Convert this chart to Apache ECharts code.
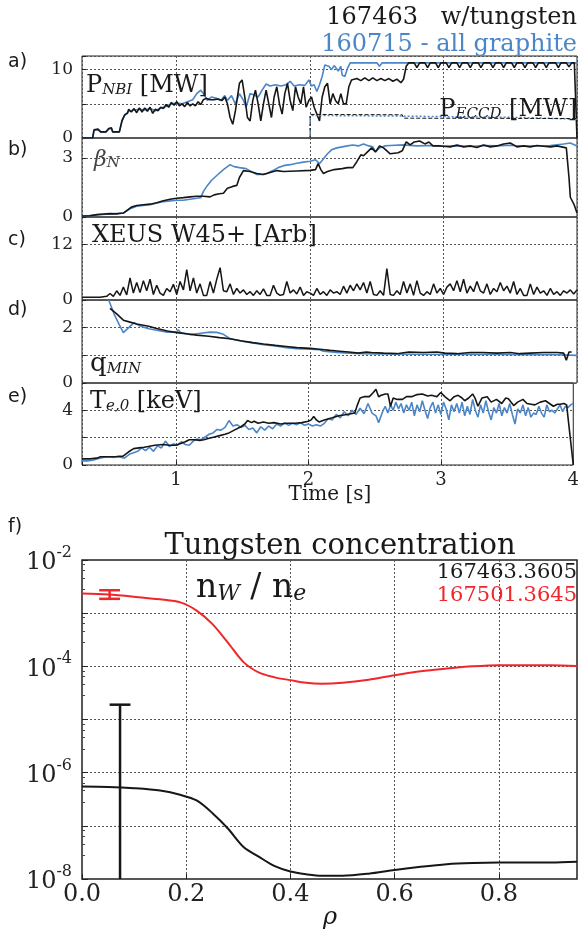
<!DOCTYPE html>
<html>
<head>
<meta charset="utf-8">
<title>Tungsten discharge comparison</title>
<script src="https://cdn.jsdelivr.net/npm/echarts@6/dist/echarts.min.js"></script>
<style>
  html, body { margin: 0; padding: 0; background: #fff; }
  #main { width: 582px; height: 929px; }
</style>
</head>
<body>
<div id="main"></div>
<script>
// ---- time traces: [t (s), value] ----
const pnbiW = [[0.29,0],[0.37,0],[0.38,1.2],[0.41,1.3],[0.43,0.9],[0.47,0.9],[0.49,1.4],[0.51,1.5],[0.52,0.9],[0.57,0.9],[0.59,2.5],[0.61,3.4],[0.63,3.6],[0.64,4.2],[0.66,3.8],[0.68,4.3],[0.70,3.7],[0.72,4.4],[0.74,3.8],[0.76,4.4],[0.78,3.9],[0.80,4.5],[0.82,3.6],[0.84,4.2],[0.86,4.0],[0.88,4.5],[0.90,4.3],[0.92,4.9],[0.94,4.5],[0.96,5.2],[0.98,4.8],[1.00,5.3],[1.02,4.7],[1.04,5.0],[1.06,4.6],[1.08,5.2],[1.10,4.7],[1.12,5.0],[1.14,4.7],[1.16,5.3],[1.18,4.9],[1.20,5.6],[1.22,5.8],[1.25,5.6],[1.28,5.6],[1.31,5.7],[1.34,5.5],[1.36,6.0],[1.38,5.0],[1.40,3.0],[1.42,2.0],[1.44,4.0],[1.47,8.0],[1.49,8.5],[1.51,6.0],[1.53,3.0],[1.55,2.5],[1.57,5.5],[1.59,7.0],[1.61,5.0],[1.63,2.5],[1.65,5.0],[1.67,7.0],[1.69,5.0],[1.71,3.0],[1.73,6.0],[1.75,7.5],[1.77,5.0],[1.79,3.5],[1.81,6.5],[1.83,8.0],[1.85,5.5],[1.87,4.0],[1.89,7.5],[1.91,6.0],[1.93,5.0],[1.95,7.5],[1.97,4.5],[1.99,5.5],[2.01,6.0],[2.03,4.5],[2.05,3.5],[2.07,2.5],[2.09,6.0],[2.11,7.5],[2.13,8.0],[2.15,5.0],[2.17,6.5],[2.19,5.5],[2.21,5.0],[2.23,6.5],[2.25,5.0],[2.27,5.0],[2.29,7.5],[2.31,8.5],[2.35,8.7],[2.38,8.4],[2.41,8.8],[2.44,8.4],[2.47,8.8],[2.50,8.4],[2.53,8.7],[2.56,8.4],[2.59,8.7],[2.62,8.3],[2.65,8.6],[2.68,8.1],[2.70,8.6],[2.72,10.5],[2.74,11.0],[2.78,11.0],[2.80,10.3],[2.82,11.0],[2.86,11.0],[2.88,10.3],[2.90,11.0],[2.94,11.0],[2.96,10.3],[2.98,11.0],[3.02,11.0],[3.04,10.3],[3.06,11.0],[3.10,11.0],[3.12,10.3],[3.14,11.0],[3.18,11.0],[3.20,10.3],[3.22,11.0],[3.26,11.0],[3.28,10.3],[3.30,11.0],[3.35,11.0],[3.37,10.3],[3.39,11.0],[3.43,11.0],[3.45,10.3],[3.47,11.0],[3.51,11.0],[3.53,10.3],[3.55,11.0],[3.59,11.0],[3.61,10.3],[3.63,11.0],[3.67,11.0],[3.69,10.3],[3.71,11.0],[3.75,11.0],[3.77,10.3],[3.79,11.0],[3.84,11.0],[3.86,10.3],[3.88,11.0],[3.92,11.0],[3.94,10.4],[3.96,11.0],[3.98,11.0],[4.00,0]];
const pnbiC = [[0.29,0],[0.37,0],[0.38,1.1],[0.41,1.2],[0.43,0.9],[0.47,0.9],[0.49,1.3],[0.51,1.4],[0.52,0.9],[0.57,0.9],[0.59,2.6],[0.61,3.3],[0.64,3.9],[0.68,4.1],[0.72,4.2],[0.76,4.1],[0.80,4.3],[0.84,4.0],[0.88,4.4],[0.92,4.6],[0.96,5.0],[1.00,5.1],[1.04,5.0],[1.08,5.3],[1.12,5.6],[1.15,6.5],[1.18,7.0],[1.20,6.5],[1.23,5.5],[1.26,6.0],[1.30,5.8],[1.33,5.5],[1.36,6.2],[1.38,5.5],[1.41,6.2],[1.44,5.0],[1.47,6.5],[1.50,5.5],[1.52,4.5],[1.55,6.5],[1.58,6.3],[1.61,6.0],[1.64,7.0],[1.67,7.9],[1.70,7.6],[1.74,7.8],[1.78,7.6],[1.82,7.8],[1.85,8.3],[1.88,7.6],[1.92,7.8],[1.96,7.7],[1.99,8.5],[2.01,7.6],[2.03,7.8],[2.05,6.8],[2.07,7.8],[2.09,9.0],[2.11,10.7],[2.14,10.5],[2.16,10.0],[2.18,10.6],[2.21,9.8],[2.23,10.5],[2.24,9.2],[2.26,9.0],[2.28,10.2],[2.30,11.0],[2.50,11.0],[2.52,10.5],[2.54,11.0],[3.99,11.0],[4.00,10.9]];
const ecW = [[2.0,0],[2.0,3.45],[2.69,3.4],[2.70,2.9],[4.0,2.85]];
const ecC = [[2.0,0],[2.0,3.3],[2.7,3.2],[3.6,3.0],[4.0,2.75]];

const betaW = [[0.29,0.05],[0.35,0.06],[0.40,0.12],[0.45,0.15],[0.50,0.17],[0.55,0.16],[0.60,0.2],[0.63,0.35],[0.66,0.5],[0.70,0.58],[0.75,0.62],[0.80,0.65],[0.85,0.72],[0.90,0.82],[0.95,0.9],[1.00,0.95],[1.05,0.98],[1.10,1.02],[1.15,1.05],[1.20,1.05],[1.25,1.02],[1.28,1.12],[1.32,1.18],[1.35,1.2],[1.38,1.45],[1.42,1.55],[1.45,1.6],[1.47,2.0],[1.50,2.35],[1.55,2.3],[1.60,2.2],[1.65,2.15],[1.70,2.25],[1.75,2.35],[1.80,2.3],[1.90,2.33],[2.00,2.36],[2.04,2.4],[2.06,2.7],[2.08,2.4],[2.10,2.2],[2.13,2.3],[2.18,2.4],[2.24,2.45],[2.28,2.5],[2.32,2.5],[2.35,2.8],[2.38,3.15],[2.40,3.1],[2.43,3.3],[2.46,3.5],[2.49,3.3],[2.52,3.6],[2.55,3.5],[2.60,3.2],[2.66,3.25],[2.69,3.35],[2.72,3.8],[2.75,3.65],[2.78,3.8],[2.82,3.85],[2.86,3.7],[2.89,3.8],[2.92,3.6],[2.96,3.6],[3.00,3.58],[3.05,3.55],[3.10,3.65],[3.15,3.55],[3.20,3.6],[3.25,3.52],[3.30,3.65],[3.35,3.55],[3.40,3.6],[3.45,3.7],[3.50,3.75],[3.55,3.55],[3.60,3.6],[3.65,3.55],[3.70,3.62],[3.75,3.58],[3.80,3.55],[3.85,3.6],[3.92,3.5],[3.94,2.0],[3.95,1.0],[3.98,0.6],[4.00,0.2]];
const betaC = [[0.29,0.04],[0.40,0.1],[0.50,0.15],[0.60,0.2],[0.65,0.42],[0.70,0.55],[0.80,0.62],[0.90,0.78],[1.00,0.85],[1.05,0.85],[1.10,0.9],[1.15,0.95],[1.18,0.98],[1.20,1.3],[1.23,1.6],[1.26,1.85],[1.30,2.1],[1.35,2.4],[1.40,2.65],[1.43,2.55],[1.47,2.5],[1.52,2.45],[1.56,2.3],[1.60,2.15],[1.64,2.15],[1.68,2.22],[1.72,2.35],[1.76,2.5],[1.80,2.6],[1.85,2.65],[1.90,2.72],[1.95,2.78],[2.00,2.82],[2.04,2.9],[2.07,2.7],[2.10,2.95],[2.13,3.2],[2.16,3.4],[2.20,3.5],[2.24,3.55],[2.28,3.6],[2.32,3.65],[2.36,3.6],[2.40,3.7],[2.44,3.6],[2.47,3.55],[2.49,3.3],[2.52,3.5],[2.56,3.6],[2.60,3.62],[2.70,3.65],[2.80,3.6],[2.90,3.62],[3.00,3.58],[3.10,3.6],[3.20,3.57],[3.30,3.62],[3.40,3.6],[3.50,3.63],[3.60,3.58],[3.70,3.6],[3.80,3.62],[3.90,3.7],[3.95,3.75],[4.00,3.6]];

const xeusW = [[0.29,0.6],[0.325,0.6],[0.35,0.6],[0.375,0.6],[0.40,0.6],[0.425,0.6],[0.45,0.7],[0.475,0.8],[0.50,1.4],[0.525,0.8],[0.55,2.0],[0.575,1.0],[0.60,2.8],[0.625,1.1],[0.65,4.8],[0.675,1.5],[0.70,3.8],[0.725,1.6],[0.75,4.2],[0.775,2.0],[0.80,4.5],[0.825,1.2],[0.85,3.2],[0.875,1.5],[0.90,1.0],[0.925,2.5],[0.95,1.8],[0.975,3.4],[1.00,1.2],[1.025,4.0],[1.05,2.2],[1.075,6.6],[1.10,2.0],[1.125,4.8],[1.15,1.5],[1.175,3.5],[1.20,1.0],[1.225,1.0],[1.25,4.0],[1.275,1.5],[1.30,4.5],[1.325,7.0],[1.35,2.0],[1.375,1.8],[1.40,3.5],[1.425,1.2],[1.45,2.5],[1.475,1.5],[1.50,2.2],[1.525,1.2],[1.55,1.8],[1.575,1.0],[1.60,2.0],[1.625,1.2],[1.65,2.4],[1.675,1.0],[1.70,1.0],[1.725,3.2],[1.75,1.5],[1.775,1.0],[1.80,1.2],[1.825,4.0],[1.85,1.5],[1.875,2.2],[1.90,1.3],[1.925,2.8],[1.95,1.0],[1.975,1.8],[2.00,1.5],[2.025,1.0],[2.05,2.5],[2.075,1.2],[2.10,1.8],[2.125,1.0],[2.15,2.2],[2.175,1.5],[2.20,1.8],[2.225,1.2],[2.25,3.0],[2.275,1.5],[2.30,3.2],[2.325,2.0],[2.35,3.5],[2.375,2.2],[2.40,3.8],[2.425,1.5],[2.45,4.0],[2.475,1.2],[2.50,1.0],[2.525,2.0],[2.55,1.0],[2.575,6.8],[2.60,1.2],[2.625,1.0],[2.65,2.0],[2.675,1.2],[2.70,4.0],[2.725,1.5],[2.75,3.5],[2.775,1.0],[2.80,4.2],[2.825,1.5],[2.85,1.0],[2.875,1.8],[2.90,1.2],[2.925,3.5],[2.95,1.5],[2.975,2.5],[3.00,1.2],[3.025,2.8],[3.05,3.5],[3.075,2.0],[3.10,4.2],[3.125,1.8],[3.15,4.5],[3.175,1.5],[3.20,3.0],[3.225,1.8],[3.25,4.0],[3.275,2.0],[3.30,1.5],[3.325,3.5],[3.35,1.2],[3.375,2.5],[3.40,1.8],[3.425,3.8],[3.45,2.0],[3.475,3.0],[3.50,1.5],[3.525,4.0],[3.55,1.2],[3.575,2.5],[3.60,1.0],[3.625,1.0],[3.65,3.5],[3.675,1.2],[3.70,2.8],[3.725,1.5],[3.75,2.0],[3.775,1.0],[3.80,2.5],[3.825,1.2],[3.85,1.8],[3.875,1.0],[3.90,2.0],[3.925,1.5],[3.95,2.2],[3.975,1.3],[4.00,2.2]];

const qminW = [[0.50,2.7],[0.55,2.5],[0.60,2.27],[0.65,2.2],[0.70,2.13],[0.79,2.05],[0.85,1.97],[0.93,1.88],[1.00,1.82],[1.07,1.78],[1.15,1.73],[1.24,1.69],[1.32,1.64],[1.40,1.6],[1.48,1.53],[1.57,1.46],[1.65,1.41],[1.74,1.36],[1.82,1.32],[1.90,1.28],[2.00,1.25],[2.07,1.22],[2.15,1.18],[2.22,1.15],[2.29,1.12],[2.36,1.08],[2.42,1.12],[2.46,1.1],[2.55,1.08],[2.65,1.06],[2.74,1.12],[2.85,1.1],[2.95,1.12],[3.01,1.08],[3.10,1.06],[3.20,1.1],[3.29,1.1],[3.40,1.08],[3.50,1.1],[3.57,1.06],[3.65,1.08],[3.75,1.1],[3.85,1.1],[3.90,1.08],[3.92,0.82],[3.94,1.12],[3.96,1.12]];
const qminC = [[0.49,3.0],[0.53,2.5],[0.57,2.1],[0.60,1.82],[0.64,2.0],[0.68,2.18],[0.73,2.05],[0.79,1.96],[0.86,1.9],[0.93,1.84],[1.00,1.84],[1.01,1.92],[1.03,1.82],[1.10,1.75],[1.18,1.8],[1.25,1.84],[1.30,1.83],[1.35,1.76],[1.40,1.6],[1.50,1.5],[1.57,1.45],[1.65,1.38],[1.74,1.34],[1.82,1.28],[1.90,1.24],[2.00,1.22],[2.07,1.2],[2.10,1.15],[2.20,1.1],[2.29,1.08],[2.40,1.06],[2.50,1.05],[2.60,1.05],[2.80,1.04],[3.00,1.03],[3.20,1.04],[3.40,1.03],[3.60,1.02],[3.80,1.03],[4.00,1.0]];

const teW = [[0.29,0.45],[0.35,0.45],[0.40,0.5],[0.43,0.6],[0.51,0.6],[0.55,0.62],[0.60,0.65],[0.64,0.95],[0.68,1.2],[0.72,1.25],[0.76,1.3],[0.79,1.35],[0.84,1.45],[0.90,1.5],[0.95,1.45],[1.00,1.45],[1.04,1.6],[1.07,1.7],[1.10,1.85],[1.14,1.85],[1.18,1.8],[1.21,1.85],[1.25,1.95],[1.29,2.05],[1.33,2.15],[1.37,2.25],[1.40,2.35],[1.44,2.55],[1.49,2.8],[1.52,3.0],[1.54,3.25],[1.57,3.1],[1.59,3.2],[1.62,3.05],[1.66,3.15],[1.70,3.05],[1.74,3.1],[1.79,3.0],[1.84,3.05],[1.90,3.05],[1.95,3.1],[2.00,3.2],[2.02,3.3],[2.04,3.55],[2.06,3.3],[2.08,3.15],[2.12,3.3],[2.18,3.45],[2.23,3.6],[2.29,3.7],[2.35,3.8],[2.37,4.4],[2.39,4.9],[2.42,5.0],[2.46,5.0],[2.49,5.3],[2.51,5.55],[2.53,5.0],[2.55,5.1],[2.58,5.2],[2.60,5.2],[2.62,4.3],[2.64,4.9],[2.67,4.8],[2.71,4.8],[2.74,5.0],[2.78,5.0],[2.82,5.15],[2.86,5.2],[2.90,5.05],[2.93,5.1],[2.97,5.0],[3.00,5.3],[3.03,5.0],[3.07,4.7],[3.10,5.0],[3.13,5.1],[3.16,4.9],[3.18,4.7],[3.21,4.9],[3.24,5.2],[3.26,4.85],[3.28,4.3],[3.31,4.9],[3.35,5.0],[3.38,4.6],[3.42,4.8],[3.46,4.5],[3.49,4.9],[3.51,4.85],[3.55,4.35],[3.58,4.6],[3.62,4.8],[3.65,4.5],[3.68,4.45],[3.71,4.4],[3.75,4.6],[3.79,4.7],[3.82,4.5],[3.85,4.3],[3.88,4.45],[3.90,4.45],[3.93,4.5],[3.95,4.4],[3.96,3.5],[4.00,0.0]];
const teC = [[0.29,0.3],[0.33,0.3],[0.37,0.35],[0.41,0.45],[0.45,0.55],[0.49,0.6],[0.53,0.55],[0.57,0.6],[0.61,0.5],[0.65,0.8],[0.68,0.9],[0.71,1.0],[0.74,1.25],[0.77,1.05],[0.80,1.3],[0.83,1.0],[0.86,1.4],[0.89,1.25],[0.92,1.75],[0.95,1.35],[0.98,1.55],[1.01,1.45],[1.04,1.7],[1.07,1.5],[1.10,1.45],[1.13,1.75],[1.16,1.9],[1.19,1.85],[1.22,2.05],[1.25,2.25],[1.28,2.35],[1.31,2.6],[1.34,2.55],[1.37,2.75],[1.40,3.25],[1.43,2.85],[1.46,2.95],[1.49,2.75],[1.52,2.9],[1.55,2.6],[1.58,2.7],[1.61,2.35],[1.64,2.8],[1.67,2.55],[1.70,2.85],[1.73,2.65],[1.76,3.0],[1.79,2.85],[1.82,3.1],[1.85,2.9],[1.88,3.05],[1.91,2.95],[1.94,3.1],[1.97,2.9],[2.00,3.0],[2.03,2.85],[2.06,2.95],[2.09,2.85],[2.12,3.05],[2.15,3.4],[2.18,3.3],[2.21,3.7],[2.24,3.45],[2.27,3.9],[2.30,3.6],[2.33,4.0],[2.36,3.7],[2.39,4.15],[2.42,3.75],[2.45,4.5],[2.48,3.8],[2.51,3.6],[2.53,3.1],[2.56,3.9],[2.58,4.3],[2.60,3.8],[2.62,4.4],[2.64,4.0],[2.66,4.6],[2.68,4.1],[2.70,4.5],[2.72,3.8],[2.74,4.4],[2.76,4.0],[2.78,4.6],[2.80,3.6],[2.82,4.4],[2.84,3.9],[2.86,4.7],[2.88,4.0],[2.90,3.4],[2.92,4.2],[2.94,4.6],[2.96,3.8],[2.98,4.4],[3.00,3.7],[3.02,4.6],[3.04,4.1],[3.06,3.3],[3.08,4.4],[3.10,3.9],[3.12,4.5],[3.14,3.8],[3.16,4.6],[3.18,3.6],[3.20,4.3],[3.22,3.7],[3.24,4.8],[3.26,4.0],[3.28,3.5],[3.30,4.4],[3.32,3.8],[3.34,4.7],[3.36,3.9],[3.38,3.3],[3.40,4.2],[3.42,3.8],[3.44,4.5],[3.46,3.6],[3.48,4.2],[3.50,3.8],[3.52,4.5],[3.54,3.7],[3.56,3.0],[3.58,4.1],[3.60,3.8],[3.62,4.4],[3.64,3.6],[3.66,4.2],[3.68,3.5],[3.70,3.8],[3.72,3.7],[3.74,4.3],[3.76,3.8],[3.78,3.5],[3.80,4.4],[3.82,3.9],[3.84,4.0],[3.86,3.8],[3.88,4.1],[3.90,4.4],[3.92,3.9],[3.94,4.3],[3.96,4.2],[3.98,4.4],[4.00,4.5]];

// ---- tungsten concentration profiles vs rho ----
const rho = [0, 0.05, 0.10, 0.15, 0.19, 0.22, 0.25, 0.28, 0.31, 0.34, 0.37, 0.40, 0.43, 0.46, 0.50, 0.55, 0.60, 0.65, 0.70, 0.75, 0.80, 0.85, 0.90, 0.95];
const cW167463 = [5.5e-7, 5.4e-7, 5.1e-7, 4.6e-7, 3.8e-7, 3.0e-7, 1.75e-7, 8.9e-8, 4.0e-8, 2.6e-8, 1.74e-8, 1.38e-8, 1.23e-8, 1.15e-8, 1.15e-8, 1.26e-8, 1.48e-8, 1.7e-8, 1.9e-8, 2.0e-8, 2.04e-8, 2.04e-8, 2.04e-8, 2.1e-8];
const cW167501 = [2.34e-3, 2.24e-3, 2.04e-3, 1.82e-3, 1.58e-3, 1.12e-3, 6.3e-4, 2.8e-4, 1.2e-4, 7.6e-5, 6.2e-5, 5.5e-5, 4.9e-5, 4.7e-5, 4.9e-5, 5.6e-5, 6.8e-5, 8.1e-5, 9.1e-5, 1.0e-4, 1.05e-4, 1.05e-4, 1.05e-4, 1.02e-4];
// error bars: [rho, low, high, cap half width]; low at the axis floor has no cap
const errW167463 = [[0.073, 1e-8, 1.9e-5, 0.02]];
const errW167501 = [[0.053, 1.86e-3, 2.7e-3, 0.02]];

const timeTicks = [1, 2, 3, 4];
const shownY = [[0, 10], [0, 3], [0, 12], [0, 2], [0, 4]];

const BLUE = '#4a86c8', BLACK = '#161616', RED = '#f0262b';
const SERIF = 'DejaVu Serif';
const LOG_MIN = 1e-8;

const chart = echarts.init(document.getElementById('main'), null, { renderer: 'canvas' });

const panels = [
  { top: 56, height: 82, max: 12, interval: 5 },
  { top: 138, height: 79, max: 4, interval: 3 },
  { top: 217, height: 83, max: 18, interval: 12 },
  { top: 300, height: 83, max: 3, interval: 1 },
  { top: 383, height: 82, max: 6, interval: 2 }
];

const dotted = { show: true, lineStyle: { type: [2, 2], color: '#555', width: 1 } };

const grid = panels.map(p => ({
  left: 82, right: 5, top: p.top, height: p.height,
  show: true, borderColor: '#222', borderWidth: 1, backgroundColor: 'transparent'
}));
grid.push({ left: 82, right: 5, top: 560, height: 319, show: true, borderColor: '#222', borderWidth: 1.5 });

const xAxis = panels.map((p, i) => ({
  type: 'value', gridIndex: i, min: 0.29, max: 4, minInterval: 1, maxInterval: 1,
  axisLine: { show: false },
  axisTick: { show: i === 4, inside: true, length: 4, lineStyle: { color: '#222' } },
  splitLine: dotted,
  axisLabel: {
    show: i === 4, margin: 6, fontFamily: SERIF, fontSize: 18, color: '#222',
    formatter: v => (timeTicks.indexOf(v) >= 0 ? String(v) : '')
  }
}));
xAxis.push({
  type: 'value', gridIndex: 5, min: 0, max: 0.95, interval: 0.2,
  axisLine: { show: false },
  axisTick: { show: true, inside: true, length: 5, lineStyle: { color: '#222' } },
  splitLine: dotted,
  axisLabel: {
    margin: 4, fontFamily: SERIF, fontSize: 24, color: '#222', showMaxLabel: false,
    formatter: v => v.toFixed(1)
  }
});

const yAxis = panels.map((p, i) => ({
  type: 'value', gridIndex: i, min: 0, max: p.max, interval: p.interval,
  axisLine: { show: false },
  axisTick: { show: true, inside: true, length: 4, lineStyle: { color: '#222' } },
  splitLine: dotted,
  axisLabel: {
    margin: 9, fontFamily: SERIF, fontSize: 17, color: '#222',
    formatter: v => (shownY[i].indexOf(v) >= 0 ? String(v) : '')
  }
}));
yAxis.push({
  type: 'log', gridIndex: 5, logBase: 10, min: LOG_MIN, max: 1e-2,
  axisLine: { show: false },
  axisTick: { show: true, inside: true, length: 6, lineStyle: { color: '#222' } },
  minorTick: { show: true, splitNumber: 5, length: 3, lineStyle: { color: '#444' } },
  splitLine: dotted,
  axisLabel: {
    margin: 10, color: '#222',
    formatter: v => {
      const e = Math.round(Math.log10(v));
      return e % 2 === 0 ? '{b|10}{p|' + e + '}' : '';
    },
    rich: {
      b: { fontFamily: SERIF, fontSize: 24, lineHeight: 30, verticalAlign: 'bottom' },
      p: { fontFamily: SERIF, fontSize: 16, lineHeight: 30, verticalAlign: 'top', padding: [0, 0, 12, 0] }
    }
  }
});

const line = (data, idx, color, width, type) => ({
  type: 'line', data, xAxisIndex: idx, yAxisIndex: idx, showSymbol: false, symbol: 'none',
  lineStyle: { color, width, type: type || 'solid' }, silent: true, animation: false
});

const errorBar = (data, color) => ({
  type: 'custom', xAxisIndex: 5, yAxisIndex: 5, data, silent: true, animation: false,
  renderItem: (params, api) => {
    const x = api.value(0), lo = api.value(1), hi = api.value(2), hw = api.value(3);
    const pLo = api.coord([x, lo]), pHi = api.coord([x, hi]);
    const half = api.coord([x + hw, hi])[0] - pHi[0];
    const st = { stroke: color, lineWidth: 2.5 };
    const kids = [
      { type: 'line', shape: { x1: pLo[0], y1: pLo[1], x2: pHi[0], y2: pHi[1] }, style: st },
      { type: 'line', shape: { x1: pHi[0] - half, y1: pHi[1], x2: pHi[0] + half, y2: pHi[1] }, style: st }
    ];
    if (lo > LOG_MIN) {
      kids.push({ type: 'line', shape: { x1: pLo[0] - half, y1: pLo[1], x2: pLo[0] + half, y2: pLo[1] }, style: st });
    }
    return { type: 'group', children: kids };
  }
});

const pair = (xs, ys) => xs.map((x, i) => [x, ys[i]]);

const profRed = line(pair(rho, cW167501), 5, RED, 2);
const profBlack = line(pair(rho, cW167463), 5, BLACK, 2);
profRed.smooth = 0.3;
profBlack.smooth = 0.3;

const series = [
  line(pnbiC, 0, BLUE, 1.6),
  line(pnbiW, 0, BLACK, 1.6),
  line(ecC, 0, BLUE, 1.5, [2, 2]),
  line(ecW, 0, BLACK, 1, [4, 2]),
  line(betaC, 1, BLUE, 1.6),
  line(betaW, 1, BLACK, 1.6),
  line(xeusW, 2, BLACK, 1.5),
  line(qminC, 3, BLUE, 1.6),
  line(qminW, 3, BLACK, 1.6),
  line(teC, 4, BLUE, 1.6),
  line(teW, 4, BLACK, 1.6),
  profRed,
  profBlack,
  errorBar(errW167501, RED),
  errorBar(errW167463, BLACK)
];

const txt = (x, y, text, opts) => ({
  type: 'text', x, y, silent: true, z: 100,
  style: Object.assign({
    text, fill: '#1a1a1a', font: '24px "' + SERIF + '"',
    textAlign: 'left', textVerticalAlign: 'middle'
  }, opts || {})
});

const sub = (size) => ({ fontFamily: SERIF, fontSize: size, fontStyle: 'italic', lineHeight: 14, verticalAlign: 'bottom' });
const main = (size) => ({ fontFamily: SERIF, fontSize: size, lineHeight: 28, verticalAlign: 'bottom' });

const graphic = [
  txt(577, 18, '167463   w/tungsten', { textAlign: 'right' }),
  txt(577, 45, '160715 - all graphite', { textAlign: 'right', fill: BLUE }),
  txt(8, 62, 'a)', { font: '19px "DejaVu Sans"' }),
  txt(8, 150, 'b)', { font: '19px "DejaVu Sans"' }),
  txt(8, 240, 'c)', { font: '19px "DejaVu Sans"' }),
  txt(8, 310, 'd)', { font: '19px "DejaVu Sans"' }),
  txt(8, 397, 'e)', { font: '19px "DejaVu Sans"' }),
  txt(8, 527, 'f)', { font: '19px "DejaVu Sans"' }),
  txt(86, 84, '{m|P}{s|NBI}{m| [MW]}', { rich: { m: main(24), s: sub(15) } }),
  txt(577, 108, '{m|P}{s|ECCD}{m| [MW]}', { textAlign: 'right', rich: { m: main(24), s: sub(15) } }),
  txt(94, 157, '{m|β}{s|N}', { rich: { m: Object.assign(main(22), { fontStyle: 'italic', fill: '#444' }), s: Object.assign(sub(15), { fill: '#444' }) } }),
  txt(92, 236, 'XEUS W45+ [Arb]'),
  txt(90, 363, '{m|q}{s|MIN}', { rich: { m: main(26), s: sub(15) } }),
  txt(90, 400, '{m|T}{s|e,0}{m| [keV]}', { rich: { m: main(24), s: sub(15) } }),
  txt(330, 495, 'Time [s]', { textAlign: 'center', font: '20px "' + SERIF + '"' }),
  txt(340, 546, 'Tungsten concentration', { textAlign: 'center', font: '29px "' + SERIF + '"' }),
  txt(196, 587, '{m|n}{s|W}{m| / n}{s|e}', { rich: { m: { fontFamily: SERIF, fontSize: 33, lineHeight: 36, verticalAlign: 'bottom' }, s: { fontFamily: SERIF, fontSize: 22, fontStyle: 'italic', lineHeight: 18, verticalAlign: 'bottom' } } }),
  txt(577, 573, '167463.3605', { textAlign: 'right', font: '21px "' + SERIF + '"' }),
  txt(577, 596, '167501.3645', { textAlign: 'right', font: '21px "' + SERIF + '"', fill: RED }),
  txt(330, 918, 'ρ', { textAlign: 'center', font: 'italic 24px "' + SERIF + '"' })
];

chart.setOption({
  backgroundColor: '#fff',
  animation: false,
  grid, xAxis, yAxis, series, graphic
});
</script>
</body>
</html>
